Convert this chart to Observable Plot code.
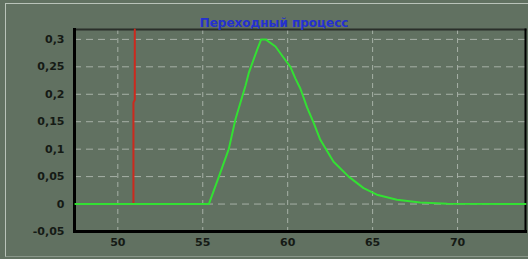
<!DOCTYPE html>
<html>
<head>
<meta charset="utf-8">
<script src="https://cdn.jsdelivr.net/npm/d3@7"></script>
<script src="https://cdn.jsdelivr.net/npm/@observablehq/plot@0.6"></script>
<style>
  html, body { margin: 0; padding: 0; background: #617161; }
  #wrap { position: relative; width: 528px; height: 259px; overflow: hidden; background: #617161; }
  #deco { position: absolute; left: 5px; top: 3px; right: -2px; bottom: 2px;
          border-left: 1px solid #b9c3b9; border-top: 1px solid #b9c3b9; border-bottom: 1px solid #8a978a; }
  #chart { position: absolute; left: 0; top: 0; }
</style>
</head>
<body>
<div id="wrap"><div id="deco"></div><div id="chart"></div></div>
<script>
const title = "Переходный процесс";

// green series: transient response
const tGreen = [47.5, 55.36, 55.95, 56.53, 56.93, 57.52, 57.72, 58.2, 58.44, 58.7, 59.28, 59.87, 60.16, 60.45, 60.75, 61.14, 61.53, 61.92, 62.7, 63.59, 64.47, 65.25, 66.43, 67.8, 69.4, 74];
const yGreen = [0, 0, 0.05, 0.1, 0.155, 0.216, 0.24, 0.281, 0.30, 0.30, 0.287, 0.262, 0.25, 0.229, 0.21, 0.176, 0.148, 0.117, 0.077, 0.05, 0.029, 0.017, 0.008, 0.003, 0.0005, 0];

// red series: step marker
const tRed = [50.92, 50.92, 51.0, 51.0];
const yRed = [0, 0.185, 0.19, 0.318];

const xTicks = [50, 55, 60, 65, 70];
const xTickLabels = ["50", "55", "60", "65", "70"];
const yTicks = [-0.05, 0, 0.05, 0.1, 0.15, 0.2, 0.25, 0.3];
const yTickLabels = ["-0,05", "0", "0,05", "0,1", "0,15", "0,2", "0,25", "0,3"];

const green = tGreen.map((t, i) => ({t, v: yGreen[i]}));
const red = tRed.map((t, i) => ({t, v: yRed[i]}));

const font = "DejaVu Sans, sans-serif";

const chart = Plot.plot({
  width: 528,
  height: 259,
  marginLeft: 74,
  marginRight: 3,
  marginTop: 29,
  marginBottom: 28,
  style: {background: "transparent", fontFamily: font, fontSize: "11px", fontWeight: "bold", color: "#151a15"},
  x: {domain: [47.45, 74], ticks: xTicks, label: null},
  y: {domain: [-0.05, 0.318], ticks: yTicks, label: null},
  marks: [
    Plot.gridX(xTicks, {stroke: "#b8c0b8", strokeOpacity: 0.8, strokeDasharray: "5,4", strokeWidth: 1}),
    Plot.gridY(yTicks, {stroke: "#b8c0b8", strokeOpacity: 0.8, strokeDasharray: "7,5", strokeWidth: 1}),
    Plot.axisX(xTicks, {tickSize: 0, tickPadding: 7, label: null, tickFormat: (d, i) => xTickLabels[i], fill: "#151a15"}),
    Plot.axisY(yTicks, {tickSize: 0, tickPadding: 10, label: null, tickFormat: (d, i) => yTickLabels[i], fill: "#151a15"}),
    Plot.frame({anchor: "top", stroke: "#2a2f2a", strokeWidth: 2}),
    Plot.frame({anchor: "right", stroke: "#000", strokeWidth: 2}),
    Plot.frame({anchor: "left", stroke: "#000", strokeWidth: 3}),
    Plot.frame({anchor: "bottom", stroke: "#000", strokeWidth: 3}),
    Plot.line(red, {x: "t", y: "v", stroke: "#cc2a1e", strokeWidth: 2}),
    Plot.line(green, {x: "t", y: "v", stroke: "#33e033", strokeWidth: 2}),
    Plot.text([title], {frameAnchor: "top", dx: -26, dy: -11, text: d => d, fill: "#2430d0", fontSize: 12, fontWeight: "bold", fontFamily: font, style: "letter-spacing: 0.6px"})
  ]
});
document.getElementById("chart").append(chart);
</script>
</body>
</html>
